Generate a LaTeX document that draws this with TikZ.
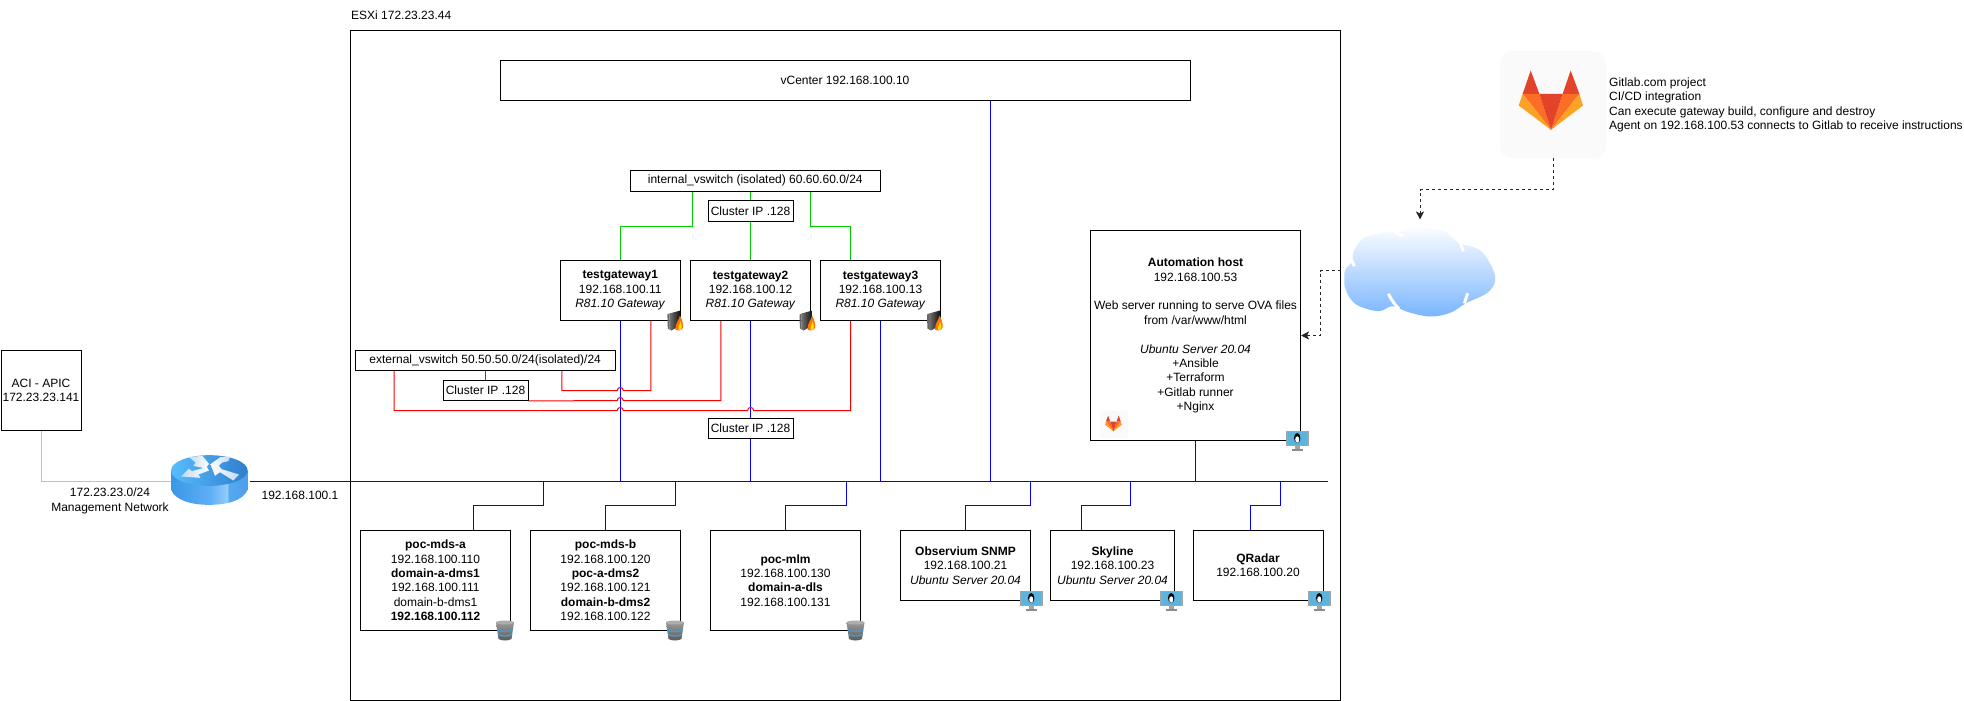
\documentclass[tikz,border=0pt]{standalone}
\usepackage{fontspec}
\setmainfont{Liberation Sans}
\usetikzlibrary{arrows.meta,backgrounds,calc}
\definecolor{lnblue}{HTML}{0000FF}
\definecolor{lnred}{HTML}{FF0000}
\definecolor{lngreen}{HTML}{00CC00}
\definecolor{lnorange}{HTML}{FFB366}
\definecolor{rsA}{HTML}{3A97E8}
\definecolor{rsB}{HTML}{5DAEF5}
\definecolor{rsC}{HTML}{93CEFB}
\definecolor{rsD}{HTML}{56A8F0}
\definecolor{rsE}{HTML}{3B8BDD}
\definecolor{rtA}{HTML}{58BDFB}
\definecolor{rtB}{HTML}{2E7ECF}
\definecolor{rtW}{HTML}{C4D9F2}
\definecolor{cloudb}{HTML}{7AB5FF}
\definecolor{foxa}{HTML}{FC6D26}
\definecolor{foxb}{HTML}{E24329}
\definecolor{foxc}{HTML}{FCA326}
\definecolor{screenb}{HTML}{5CB3DC}
\definecolor{framegr}{HTML}{A0A5A9}
\definecolor{dbband}{HTML}{3F9FD8}
\pgfdeclarehorizontalshading{routerside}{100bp}{
  color(0bp)=(rsA); color(25bp)=(rsA); color(50bp)=(rsB); color(62bp)=(rsC);
  color(62.5bp)=(rsD); color(100bp)=(rsE)}
\tikzset{
  txt/.style={inner sep=0pt,align=center,font=\fontsize{12}{14.4}\selectfont},
  hostbox/.style={txt,draw=black,fill=white,line width=1pt},
  ghost/.style={inner sep=0pt,outer sep=0pt},
  wire/.style={line width=1pt},
  bluew/.style={wire,draw=lnblue},
  redw/.style={wire,draw=lnred},
  greenw/.style={wire,draw=lngreen},
  orangew/.style={wire,draw=lnorange},
  dashw/.style={wire,draw=black!85,dash pattern=on 3pt off 3pt},
  arroww/.style={-{Stealth[length=8pt,width=8pt,inset=2pt]}},
  tile/.style={ghost,fill=black!2,rounded corners=#1},
}
\newcommand{\bx}[6]{\node[hostbox,minimum width={(#4-#2)*1pt},minimum height={(#5-#3)*1pt}] (#1) at ({(#2+#4)/2},{(#3+#5)/2}) {#6};}
\newcommand{\hop}[2]{-- (#1+3,#2) .. controls (#1+3,#2-4) and (#1-3,#2-4) .. (#1-3,#2)}
\newcommand{\foxlogo}[3]{\begin{scope}[shift={(#1,#2)},scale=#3,shift={(-62,-62)}]
  \fill[fill=foxb] (154,120)--(130,190)--(180,190)--cycle;
  \fill[fill=foxb] (274,120)--(250,190)--(300,190)--cycle;
  \fill[fill=foxa] (130,190)--(180,190)--(215,298)--cycle;
  \fill[fill=foxa] (250,190)--(300,190)--(215,298)--cycle;
  \fill[fill=foxb] (180,190)--(250,190)--(215,298)--cycle;
  \fill[fill=foxc] (130,190)--(118,225)--(215,298)--cycle;
  \fill[fill=foxc] (300,190)--(311,225)--(215,298)--cycle;
\end{scope}}
\newcommand{\fwicon}[2]{\begin{scope}[shift={(#1,#2)}]
  \fill[fill=black!60] (0,4)--(2,3)--(2,19)--(0.4,18)--cycle;
  \shade[left color=black!55,right color=black!95] (2,3)--(13,0)--(13,15)--(4,20)--(2,19)--cycle;
  \fill[fill=orange!90!red] (8,19) .. controls (8,12) and (12,9) .. (12.5,5) .. controls (15,9) and (16,14) .. (15.5,17) .. controls (15,20) and (10,21) .. (8,19)--cycle;
  \fill[fill=yellow!80!orange] (11,19) .. controls (11,15) and (12.5,14) .. (13,11) .. controls (14.5,14) and (15,18) .. (13,19.5)--cycle;
\end{scope}}
\newcommand{\dbicon}[2]{\begin{scope}[shift={(#1,#2)}]
  \shade[top color=black!40,bottom color=black!65] (0,2)--(18,2)--(15.5,18.5) .. controls (12,20.5) and (6,20.5) .. (2.5,18.5)--cycle;
  \fill[fill=black!32] (9,2) ellipse [x radius=9,y radius=2];
  \draw[line width=1.2pt,draw=dbband] (1.2,9.5) .. controls (6,11.5) and (12,11.5) .. (16.8,9.5);
  \draw[line width=1.2pt,draw=dbband] (2.2,14) .. controls (6,16) and (12,16) .. (15.8,14);
\end{scope}}
\newcommand{\tuxicon}[2]{\begin{scope}[shift={(#1,#2)}]
  \fill[fill=framegr] (0,0) rectangle (22.5,15.5);
  \fill[fill=screenb] (1.5,1.5) rectangle (21,14);
  \fill[fill=framegr] (9,15.5) rectangle (13.5,18);
  \fill[fill=black!45] (5.5,18) rectangle (17,20);
  \fill[fill=black] (11.2,7.5) ellipse [x radius=3.2,y radius=5];
  \fill[fill=white] (11.2,9) ellipse [x radius=2,y radius=3.2];
  \fill[fill=orange] (8.2,12) rectangle (10.5,13.3);
  \fill[fill=orange] (12,12) rectangle (14.2,13.3);
\end{scope}}
\begin{document}
\begin{tikzpicture}[x=1pt,y=-1pt]
\useasboundingbox (0,-0.5) rectangle (1964,700.5);
% nodes
\node[txt,anchor=west] (esxilabel) at (351,14.5) {ESXi 172.23.23.44};
\bx{apic}{1}{350}{81}{430}{ACI - APIC\\172.23.23.141}
\node[ghost,minimum width=79pt,minimum height=49pt] (router) at (210.5,479.5) {};
\node[txt] (mgmt) at (110,500.5) {172.23.23.0/24\\Management Network};
\node[txt] (gwip) at (300,495) {192.168.100.1};
\bx{vcenter}{500}{60}{1190}{100}{vCenter 192.168.100.10}
\bx{intsw}{630}{170}{880.5}{190.5}{internal\_vswitch (isolated) 60.60.60.0/24}
\bx{cl1}{708}{200}{793}{220.5}{Cluster IP .128}
\bx{gw1}{560}{260}{680.5}{320}{\textbf{testgateway1}\\192.168.100.11\\\textit{R81.10 Gateway}}
\bx{gw2}{690.7}{260}{810.5}{320}{\textbf{testgateway2}\\192.168.100.12\\\textit{R81.10 Gateway}}
\bx{gw3}{820.4}{260}{940.6}{320}{\textbf{testgateway3}\\192.168.100.13\\\textit{R81.10 Gateway}}
\bx{extsw}{355.4}{350}{615}{370}{external\_vswitch 50.50.50.0/24(isolated)/24}
\bx{cl2}{443}{380}{528}{400}{Cluster IP .128}
\bx{cl3}{708}{418}{793}{438}{Cluster IP .128}
\bx{mdsa}{360.5}{530}{510.5}{630}{\textbf{poc-mds-a}\\192.168.100.110\\\textbf{domain-a-dms1}\\192.168.100.111\\domain-b-dms1\\\textbf{192.168.100.112}}
\bx{mdsb}{530.5}{530}{680.5}{630}{\textbf{poc-mds-b}\\192.168.100.120\\\textbf{poc-a-dms2}\\192.168.100.121\\\textbf{domain-b-dms2}\\192.168.100.122}
\bx{mlm}{710.5}{530}{860.5}{630}{\textbf{poc-mlm}\\192.168.100.130\\\textbf{domain-a-dls}\\192.168.100.131}
\bx{obs}{900.5}{530}{1030.5}{600}{\textbf{Observium SNMP}\\192.168.100.21\\\textit{Ubuntu Server 20.04}}
\bx{sky}{1050.5}{530}{1174.5}{600}{\textbf{Skyline}\\192.168.100.23\\\textit{Ubuntu Server 20.04}}
\bx{qr}{1193}{530}{1323}{600}{\textbf{QRadar}\\192.168.100.20}
\bx{auto}{1090.5}{230}{1300.5}{440}{\textbf{Automation host}\\192.168.100.53\\[14.4pt]Web server running to serve OVA files\\from /var/www/html\\[14.4pt]\textit{Ubuntu Server 20.04}\\+Ansible\\+Terraform\\+Gitlab runner\\+Nginx}
\node[tile=3pt,minimum size=27.7pt] (glsmall) at (1113.9,423.9) {};
\foxlogo{1100}{410}{0.0877}
\node[tile=12pt,minimum width=106pt,minimum height=107pt] (gl) at (1553,104.2) {};
\foxlogo{1500}{50.7}{0.3333}
\node[txt,anchor=west,align=left] (gltext) at (1609,104.2) {Gitlab.com project\\CI/CD integration\\Can execute gateway build, configure and destroy\\Agent on 192.168.100.53 connects to Gitlab to receive instructions};
\node[ghost,minimum width=151pt,minimum height=92pt] (cloud) at (1419.4,270) {};
% junctions
\coordinate (bus) at (1327.5,480.5);
\coordinate (vc) at (990.5,100);
\coordinate (tapa) at (543,480.5);
\coordinate (tapb) at (675.7,480.5);
\coordinate (tapc) at (846,480.5);
\coordinate (tapd) at (1030.4,480.5);
\coordinate (tape) at (1130.3,480.5);
\coordinate (tapf) at (1280.6,480.5);
\coordinate (r1a) at (650.8,390);
\coordinate (r1b) at (561.8,390);
\coordinate (r2a) at (720.8,400);
\coordinate (r3a) at (850.5,410);
\coordinate (r3b) at (394,410);
\coordinate (turna) at (1320,270);
\coordinate (turnb) at (1420,189.3);
% outer frame and connectors under the boxes
\begin{scope}[on background layer]
  \draw[line width=1pt,draw=black,fill=white] (350.5,30) rectangle (1340,700);
  \draw[orangew] (apic.south) |- (router.west |- bus);
  \draw[bluew] (router.east |- bus) -- (bus);
  \draw[bluew] (vc) -- (vc |- bus);
  \draw[bluew] (gw1.south) -- (gw1.south |- bus);
  \draw[bluew] (cl3.south -| gw2.south) -- (gw2.south |- bus);
  \draw[bluew] (gw2.south) -- (cl3.north -| gw2.south);
  \draw[bluew] (gw3.south) -- (gw3.south |- bus);
  \draw[bluew] (auto.south) -- (auto.south |- bus);
  \draw[bluew] (tapa) -- ++(0,24.5) -| ([xshift=37.5pt]mdsa.north);
  \draw[bluew] (tapb) -- ++(0,24.5) -| (mdsb.north);
  \draw[bluew] (tapc) -- ++(0,24.5) -| (mlm.north);
  \draw[bluew] (tapd) -- ++(0,24.5) -| (obs.north);
  \draw[bluew] (tape) -- ++(0,24.5) -| ([xshift=-31pt]sky.north);
  \draw[bluew] (tapf) -- ++(0,24.5) -| ([xshift=-7.6pt]qr.north);
  \draw[greenw] ([xshift=-62.5pt]intsw.south) -- ++(0,34.5) -| (gw1.north);
  \draw[greenw] (gw2.north |- intsw.south) -- (gw2.north);
  \draw[greenw] ([xshift=55.3pt]intsw.south) -- ++(0,34.5) -| ([xshift=-30pt]gw3.north);
  \draw[redw] (cl2.north |- extsw.south) -- (cl2.north);
  \draw[redw] (r1a |- gw1.south) -- (r1a) \hop{620.25}{390} -- (r1b) -- (r1b |- extsw.south);
  \draw[redw] (r2a |- gw2.south) -- (r2a) \hop{620.25}{400} -- (cl2.south east);
  \draw[redw] (r3a |- gw3.south) -- (r3a) \hop{750.6}{410} \hop{620.25}{410} -- (r3b) -- (r3b |- extsw.south);
\end{scope}
\draw[dashw,arroww] ([xshift=-3pt]cloud.west) -- (turna) |- (auto.east);
\draw[dashw,arroww] (gl.south) |- (turnb) -- ([yshift=5pt]turnb |- cloud.north);
% icons
\fwicon{667.4}{310}
\fwicon{799.5}{310}
\fwicon{927}{310}
\dbicon{496}{620}
\dbicon{666}{620}
\dbicon{846.5}{620}
\tuxicon{1286}{430}
\tuxicon{1020}{590}
\tuxicon{1160}{590}
\tuxicon{1308}{590}
% cloud
\begin{scope}[shift={(1335,215)},scale=0.33333]
  \shade[top color=white,bottom color=cloudb] plot[smooth cycle,tension=0.6] coordinates {
    (28,185) (32,160) (52,138) (56,108) (85,68) (140,52) (190,48) (255,28) (330,48) (372,85) (388,88) (440,108) (480,180) (462,228) (395,262) (345,292) (285,303) (220,290) (172,272) (130,287) (62,266) (32,222)};
  \draw[white,line width=3pt] (160,235) .. controls (170,255) and (180,268) .. (192,280);
  \draw[white,line width=3pt] (398,233) -- (388,264);
  \draw[white,line width=3pt] (385,108) -- (376,82);
  \draw[white,line width=3pt] (205,62) -- (178,50);
  \draw[white,line width=3pt] (58,152) -- (50,134);
\end{scope}
% router
\begin{scope}[shift={(165,450)},scale=0.33333]
  \shade[shading=routerside] (18,60) -- (18,117) .. controls (30,150) and (80,163) .. (133,163) .. controls (186,163) and (236,150) .. (248,117) -- (248,60) -- cycle;
  \shade[left color=rtA,right color=rtB] (133,60) ellipse [x radius=115,y radius=46];
  \shade[left color=rtW,right color=white] (72,20)--(112,16)--(132,40)--(122,54)--(85,46)--(92,36)--cycle;
  \shade[left color=rtW,right color=white] (48,78)--(72,54)--(80,62)--(126,50)--(132,60)--(100,72)--(106,82)--cycle;
  \shade[left color=white,right color=rtW] (135,42)--(166,20)--(196,18)--(190,32)--(172,36)--(152,54)--cycle;
  \shade[left color=white,right color=rtW] (138,46)--(160,44)--(170,56)--(222,72)--(205,90)--(165,65)--(150,76)--cycle;
\end{scope}
\end{tikzpicture}
\end{document}
